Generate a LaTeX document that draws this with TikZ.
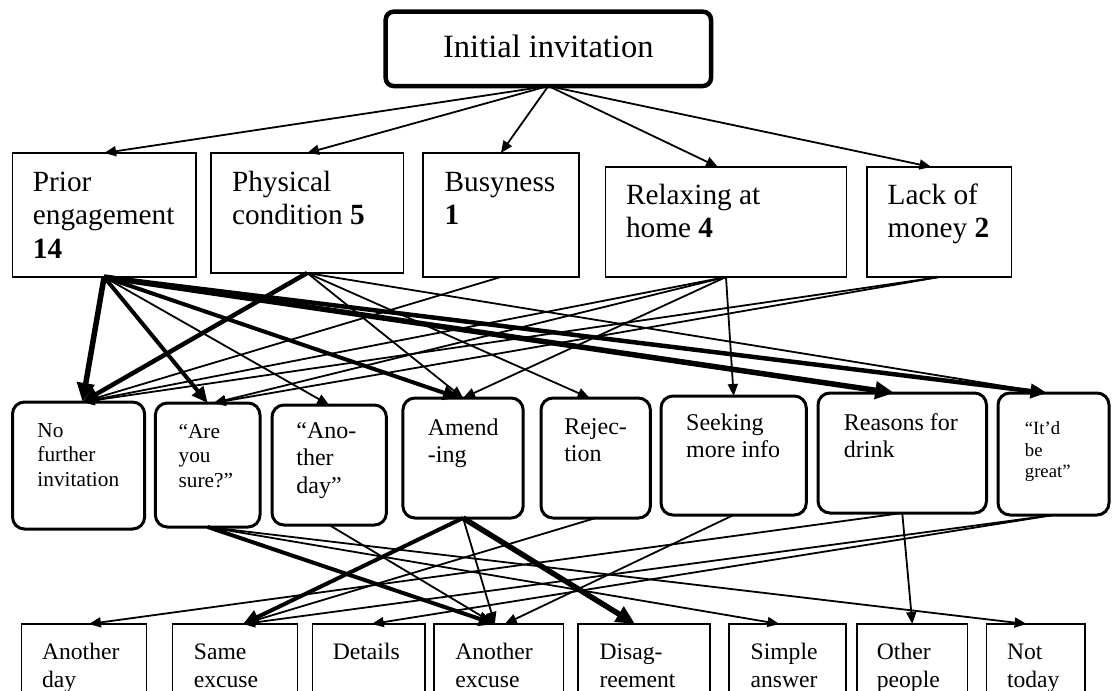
\documentclass[tikz,border=0pt]{standalone}
\usepackage{fontspec}
\setmainfont{Liberation Serif}
\usetikzlibrary{arrows.meta}

% left-aligned stack of lines whose baseline is the first line's baseline
\newcommand{\stk}[1]{\vtop{\let\\\cr\halign{##\hfil\cr#1\crcr}}}

\tikzset{
  box/.style={draw, inner sep=0pt, outer sep=0pt, anchor=north west},
  topbox/.style={box, line width=4.5pt, rounded corners=8pt},
  reasonbox/.style={box, line width=1.7pt},
  replybox/.style={box, line width=3pt, rounded corners=12pt},
  followbox/.style={box, line width=1.7pt},
  lbl/.style={inner sep=0pt, outer sep=0pt, anchor=base west},
  fA/.style={font=\fontsize{29.3}{33.7}\selectfont},
  fS/.style={font=\fontsize{21.3}{24.8}\selectfont},
  fM/.style={font=\fontsize{24}{27.8}\selectfont},
  fT/.style={font=\fontsize{18.7}{21.5}\selectfont},
  fL/.style={font=\fontsize{23.6}{28.5}\selectfont},
  link/.style={line width=1.8pt, -{Triangle[length=12pt,width=10pt]}},
  heavy/.style={line width=4pt, -{Triangle[length=16pt,width=14pt]}},
  heavier/.style={line width=5.5pt, -{Triangle[length=19pt,width=17pt]}},
}

\begin{document}
\begin{tikzpicture}[x=1pt, y=-1pt]
\useasboundingbox (0,0) rectangle (1112,691);
\clip (0,0) rectangle (1112,691);

% top node
\node[topbox, minimum width=325.3pt, minimum height=74.3pt] (init) at (385.7,11.7) {};
\node[inner sep=0pt, anchor=base, font=\fontsize{32.5}{37}\selectfont] (initT) at (548.3,57.3) {Initial invitation};

% reasons
\node[reasonbox, minimum width=183.2pt, minimum height=124pt] (prior) at (12.5,153) {};
\node[reasonbox, minimum width=192.9pt, minimum height=120pt] (phys) at (210.7,153) {};
\node[reasonbox, minimum width=155.7pt, minimum height=124pt] (busy) at (423,153) {};
\node[reasonbox, minimum width=240.8pt, minimum height=110pt] (relax) at (605.6,167) {};
\node[reasonbox, minimum width=144.4pt, minimum height=110pt] (lack) at (867.2,167) {};

\node[lbl, fA] (priorT) at (32.9,191) {\stk{Prior\\engagement\\\textbf{14}}};
\node[lbl, fA] (physT) at (232,191) {\stk{Physical\\condition \textbf{5}}};
\node[lbl, fA] (busyT) at (444.6,191) {\stk{Busyness\\\textbf{1}}};
\node[lbl, fA] (relaxT) at (626,204) {\stk{Relaxing at\\home \textbf{4}}};
\node[lbl, fA] (lackT) at (887.6,204) {\stk{Lack of\\money \textbf{2}}};

% replies
\node[replybox, minimum width=132.1pt, minimum height=127pt] (nf) at (12.5,402) {};
\node[replybox, minimum width=104.6pt, minimum height=124pt] (ays) at (155.4,403) {};
\node[replybox, minimum width=114.4pt, minimum height=120pt] (ano) at (272,405) {};
\node[replybox, minimum width=120.3pt, minimum height=120pt] (amend) at (402.9,398) {};
\node[replybox, minimum width=109.4pt, minimum height=120pt] (rej) at (541,398) {};
\node[replybox, minimum width=145.3pt, minimum height=119pt] (seek) at (661,396) {};
\node[replybox, minimum width=168.5pt, minimum height=120pt] (reas) at (818,393) {};
\node[replybox, minimum width=111pt, minimum height=122pt] (itd) at (998,393) {};

\node[lbl, fS] (nfT) at (37.5,437) {\stk{No\\further\\invitation}};
\node[lbl, fS] (aysT) at (178.6,438) {\stk{“Are\\you\\sure?”}};
\node[lbl, fM] (anoT) at (296.4,438) {\stk{“Ano-\\ther\\day”}};
\node[lbl, fM] (amendT) at (427.9,435) {\stk{Amend\\-ing}};
\node[lbl, fM] (rejT) at (564.3,434) {\stk{Rejec-\\tion}};
\node[lbl, fM] (seekT) at (686.2,430) {\stk{Seeking\\more info}};
\node[lbl, fM] (reasT) at (843.9,430) {\stk{Reasons for\\drink}};
\node[lbl, fT] (itdT) at (1024.9,434.5) {\stk{“It’d\\be\\great”}};

% follow-ups (cut off by the lower edge)
\node[followbox, minimum width=125pt, minimum height=96pt] (ad) at (21.4,624) {};
\node[followbox, minimum width=125pt, minimum height=96pt] (se) at (172.5,624) {};
\node[followbox, minimum width=112.5pt, minimum height=96pt] (det) at (312.5,624) {};
\node[followbox, minimum width=129.6pt, minimum height=96pt] (ae) at (434,624) {};
\node[followbox, minimum width=132.2pt, minimum height=96pt] (dis) at (578,624) {};
\node[followbox, minimum width=116.5pt, minimum height=96pt] (sa) at (729.2,624) {};
\node[followbox, minimum width=110.3pt, minimum height=96pt] (op) at (857.2,624) {};
\node[followbox, minimum width=98.2pt, minimum height=96pt] (nt) at (986.5,624) {};

\node[lbl, fL] (adT) at (42.1,659) {\stk{Another\\day}};
\node[lbl, fL] (seT) at (193.9,659) {\stk{Same\\excuse}};
\node[lbl, fL] (detT) at (332.9,659) {\stk{Details}};
\node[lbl, fL] (aeT) at (455.4,659) {\stk{Another\\excuse}};
\node[lbl, fL] (disT) at (599.5,659) {\stk{Disag-\\reement}};
\node[lbl, fL] (saT) at (750.7,659) {\stk{Simple\\answer}};
\node[lbl, fL] (opT) at (876.9,659) {\stk{Other\\people}};
\node[lbl, fL] (ntT) at (1007,659) {\stk{Not\\today}};

% invitation -> reasons
\draw[link] (init.south) -- (prior.north);
\draw[link] (init.south) -- (phys.north);
\draw[link] (init.south) -- (busy.north);
\draw[link] (init.south) -- ([xshift=-8pt]relax.north);
\draw[link] (init.south) -- ([xshift=-8pt]lack.north);

% reasons -> replies
\draw[heavier] (prior.south) -- ([xshift=4pt]nf.north);
\draw[heavy] (prior.south) -- (ays.north);
\draw[link] (prior.south) -- (ano.north);
\draw[heavy] (prior.south) -- ([xshift=-4pt]amend.north);
\draw[heavier] (prior.south) -- ([xshift=-8pt]reas.north);
\draw[heavy, line width=4.5pt] (prior.south) -- ([xshift=-7pt]itd.north);

\draw[heavy, line width=4.5pt] (phys.south) -- ([xshift=4pt]nf.north);
\draw[link] (phys.south) -- (amend.north);
\draw[link] (phys.south) -- ([xshift=-6pt]rej.north);
\draw[link] (phys.south) -- ([xshift=-7pt]itd.north);

\draw[link] (busy.south) -- ([xshift=4pt]nf.north);

\draw[link] (relax.south) -- ([xshift=4pt]nf.north);
\draw[link] (relax.south) -- ([xshift=6pt]ays.north);
\draw[link] (relax.south) -- (amend.north);
\draw[link] (relax.south) -- (seek.north);

\draw[link] (lack.south) -- ([xshift=4pt]nf.north);
\draw[link] (lack.south) -- ([xshift=6pt]ays.north);

% replies -> follow-ups
\draw[heavy] (ays.south) -- ([xshift=-4pt]ae.north);
\draw[link] (ays.south) -- ([xshift=-8pt]sa.north);
\draw[link] (ays.south) -- ([xshift=-9pt]nt.north);
\draw[link] (ano.south) -- ([xshift=-4pt]ae.north);
\draw[heavy] (amend.south) -- ([xshift=8pt]se.north);
\draw[link] (amend.south) -- ([xshift=-4pt]ae.north);
\draw[heavier] (amend.south) -- ([xshift=-9pt]dis.north);
\draw[link] (rej.south) -- ([xshift=8pt]se.north);
\draw[link] (seek.south) -- ([xshift=6pt]ae.north);
\draw[link] (reas.south) -- ([xshift=5pt]ad.north);
\draw[link] (reas.south) -- (op.north);
\draw[link] (itd.south) -- ([xshift=8pt]se.north);
\draw[link] (itd.south) -- ([xshift=3pt]det.north);
\end{tikzpicture}
\end{document}
